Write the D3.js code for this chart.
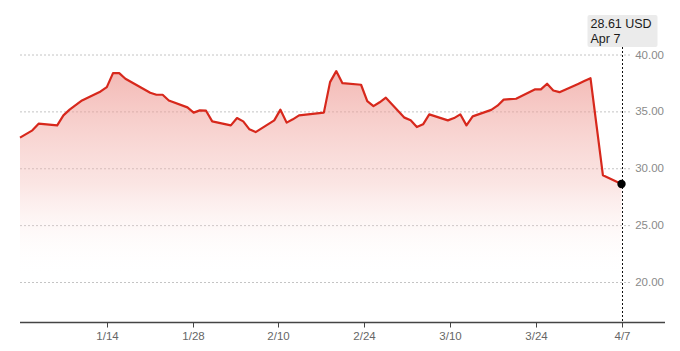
<!DOCTYPE html>
<html>
<head>
<meta charset="utf-8">
<script src="https://cdn.jsdelivr.net/npm/d3@7"></script>
<style>
  body { margin: 0; background: #fff; }
  svg { display: block; font-family: "Liberation Sans", Arial, sans-serif; }
</style>
</head>
<body>
<svg id="chart" width="680" height="351"></svg>
<script>
// trading days and closing prices (USD)
const dates = [
  '2024-12-31',
  '2025-01-02', '2025-01-03', '2025-01-06', '2025-01-07', '2025-01-08', '2025-01-10',
  '2025-01-13', '2025-01-14', '2025-01-15', '2025-01-16', '2025-01-17',
  '2025-01-21', '2025-01-22', '2025-01-23', '2025-01-24',
  '2025-01-27', '2025-01-28', '2025-01-29', '2025-01-30', '2025-01-31',
  '2025-02-03', '2025-02-04', '2025-02-05', '2025-02-06', '2025-02-07',
  '2025-02-10', '2025-02-11', '2025-02-12', '2025-02-13', '2025-02-14',
  '2025-02-18', '2025-02-19', '2025-02-20', '2025-02-21',
  '2025-02-24', '2025-02-25', '2025-02-26', '2025-02-27', '2025-02-28',
  '2025-03-03', '2025-03-04', '2025-03-05', '2025-03-06', '2025-03-07',
  '2025-03-10', '2025-03-11', '2025-03-12', '2025-03-13', '2025-03-14',
  '2025-03-17', '2025-03-18', '2025-03-19', '2025-03-20', '2025-03-21',
  '2025-03-24', '2025-03-25', '2025-03-26', '2025-03-27', '2025-03-28',
  '2025-03-31', '2025-04-01', '2025-04-02', '2025-04-03', '2025-04-04',
  '2025-04-07'
];
const prices = [
  32.69,
  33.33, 33.92, 33.77, 34.65, 35.15, 35.96,
  36.75, 37.13, 38.36, 38.36, 37.87,
  36.64, 36.46, 36.46, 35.96,
  35.35, 34.89, 35.09, 35.06, 34.12,
  33.77, 34.41, 34.12, 33.42, 33.18,
  34.21, 35.15, 34.01, 34.30, 34.65,
  34.89, 37.57, 38.54, 37.48,
  37.34, 35.90, 35.46, 35.80, 36.20,
  34.45, 34.21, 33.62, 33.86, 34.74,
  34.21, 34.41, 34.74, 33.77, 34.56,
  35.13, 35.50, 36.03, 36.07, 36.11,
  36.93, 36.93, 37.43, 36.84, 36.69,
  37.41, 37.66, 37.92, 33.65, 29.39,
  28.61
];
const yTicks = [20, 25, 30, 35, 40];
const xTickLabels = ['1/14', '1/28', '2/10', '2/24', '3/10', '3/24', '4/7'];
const xTickRange = ['2025-01-14', '2025-04-07'];
const currency = 'USD';

const parse = d3.utcParse('%Y-%m-%d');
const data = dates.map((d, i) => ({ date: parse(d), value: prices[i] }));
const last = data[data.length - 1];

const svg = d3.select('#chart');

const x = d3.scaleUtc()
  .domain([data[0].date, last.date])
  .range([20, 621.5]);

const y = d3.scaleLinear()
  .domain([20, 40])
  .range([282, 54.5]);

const axisY = 322.5;

// gradient for the area
const defs = svg.append('defs');
const grad = defs.append('linearGradient')
  .attr('id', 'fade')
  .attr('gradientUnits', 'userSpaceOnUse')
  .attr('x1', 0).attr('x2', 0)
  .attr('y1', y(38.5)).attr('y2', y(20.5));
grad.append('stop').attr('offset', 0).attr('stop-color', '#ec8f88').attr('stop-opacity', 0.62);
grad.append('stop').attr('offset', 0.55).attr('stop-color', '#f3b5b0').attr('stop-opacity', 0.35);
grad.append('stop').attr('offset', 1).attr('stop-color', '#ffffff').attr('stop-opacity', 0);

// horizontal grid lines
svg.append('g')
  .selectAll('line')
  .data(yTicks)
  .join('line')
  .attr('x1', 20)
  .attr('x2', 632)
  .attr('y1', d => y(d) + 0.5)
  .attr('y2', d => y(d) + 0.5)
  .attr('stroke', '#c4c4c4')
  .attr('stroke-width', 1)
  .attr('stroke-dasharray', '2,2');

// y labels
svg.append('g')
  .selectAll('text')
  .data(yTicks)
  .join('text')
  .attr('x', 664)
  .attr('y', d => y(d))
  .attr('dy', '0.35em')
  .attr('text-anchor', 'end')
  .attr('fill', '#8a8a8a')
  .attr('font-size', 11.5)
  .text(d3.format('.2f'));

// area + line
const area = d3.area()
  .x(d => x(d.date))
  .y0(axisY)
  .y1(d => y(d.value));

const line = d3.line()
  .x(d => x(d.date))
  .y(d => y(d.value));

svg.append('path')
  .datum(data)
  .attr('d', area)
  .attr('fill', 'url(#fade)');

svg.append('path')
  .datum(data)
  .attr('d', line)
  .attr('fill', 'none')
  .attr('stroke', '#d7281c')
  .attr('stroke-width', 2.2)
  .attr('stroke-linejoin', 'round');

// x axis, ticks spread evenly between first and last label date
const tickInterp = d3.interpolateDate(parse(xTickRange[0]), parse(xTickRange[1]));
const xTicks = xTickLabels.map((label, i) => ({
  pos: x(new Date(+tickInterp(i / (xTickLabels.length - 1)))),
  label
}));

const xAxis = svg.append('g').attr('transform', `translate(0,${axisY})`);
xAxis.append('line')
  .attr('x1', 20)
  .attr('x2', 665)
  .attr('stroke', '#444')
  .attr('stroke-width', 1.3);
const tk = xAxis.selectAll('g.tick')
  .data(xTicks)
  .join('g')
  .attr('class', 'tick')
  .attr('transform', d => `translate(${Math.round(d.pos) + 0.5},0)`);
tk.append('line')
  .attr('y2', 5)
  .attr('stroke', '#444');
tk.append('text')
  .attr('y', 14)
  .attr('dy', '0.32em')
  .attr('text-anchor', 'middle')
  .attr('fill', '#666')
  .attr('font-size', 11.5)
  .text(d => d.label);

// hover marker on last point
const hx = Math.round(x(last.date)) + 0.5;
svg.append('line')
  .attr('x1', hx).attr('x2', hx)
  .attr('y1', 47).attr('y2', axisY)
  .attr('stroke', '#111')
  .attr('stroke-width', 1)
  .attr('stroke-dasharray', '2,2');

svg.append('circle')
  .attr('cx', x(last.date))
  .attr('cy', y(last.value))
  .attr('r', 4.2)
  .attr('fill', '#000');

const tip = svg.append('g').attr('transform', `translate(${hx - 35},15)`);
tip.append('rect')
  .attr('width', 70)
  .attr('height', 32)
  .attr('rx', 2)
  .attr('fill', '#ebebeb');
tip.append('text')
  .attr('x', 3)
  .attr('y', 12.5)
  .attr('fill', '#1a1a1a')
  .attr('font-size', 12.5)
  .text(`${d3.format('.2f')(last.value)} ${currency}`);
tip.append('text')
  .attr('x', 3)
  .attr('y', 28)
  .attr('fill', '#1a1a1a')
  .attr('font-size', 12.5)
  .text(d3.utcFormat('%b %-d')(last.date));
</script>
</body>
</html>
